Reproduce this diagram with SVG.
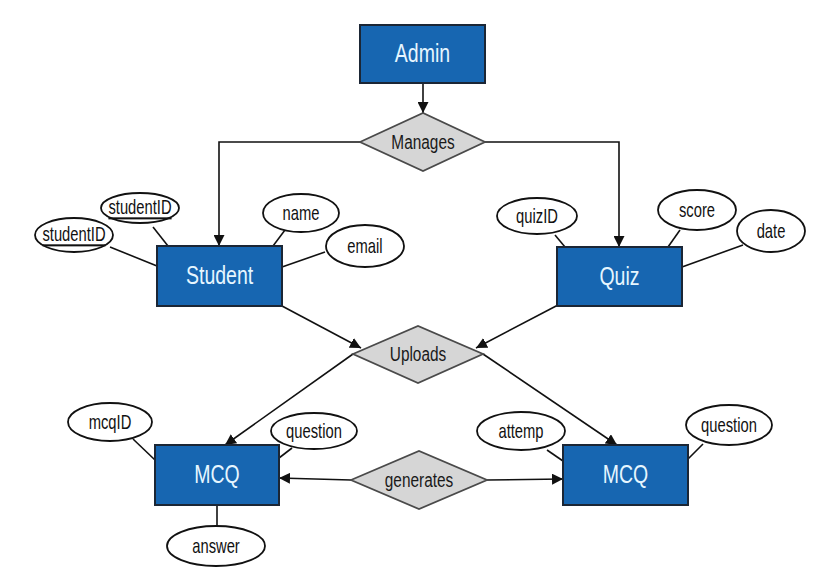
<svg xmlns="http://www.w3.org/2000/svg" width="828" height="576" viewBox="0 0 828 576">
<style>
.ent{fill:#1766b1;stroke:#1b2635;stroke-width:2}
.rel{fill:#d6d6d6;stroke:#4a4a4a;stroke-width:1.8}
.att{fill:#fff;stroke:#111;stroke-width:1.8}
.ln{fill:none;stroke:#111;stroke-width:1.6}
text{font-family:"Liberation Sans",Arial,sans-serif;text-anchor:middle;dominant-baseline:central;transform-box:fill-box;transform-origin:center}
.et{font-size:25px;fill:#e6f6ff;transform:scaleX(0.78)}
.rt{font-size:20px;fill:#1a1a1a;transform:scaleX(0.77)}
.at{font-size:20.5px;fill:#111;transform:scaleX(0.72)}
</style>
<defs>
<marker id="ah" viewBox="0 0 10 10" refX="10" refY="5" markerWidth="11" markerHeight="11" markerUnits="userSpaceOnUse" orient="auto">
<path d="M0,0 L10,5 L0,10 z" fill="#111"/>
</marker>
</defs>
<rect width="828" height="576" fill="#fff"/>
<g id="connectors">
<line class="ln" x1="423" y1="83" x2="423" y2="113" marker-end="url(#ah)"/>
<polyline class="ln" points="360,142 219,142 219,246" marker-end="url(#ah)"/>
<polyline class="ln" points="485,142 619,142 619,247" marker-end="url(#ah)"/>
<line class="ln" x1="153" y1="227" x2="168" y2="246"/>
<line class="ln" x1="110" y1="247" x2="157" y2="266"/>
<line class="ln" x1="285" y1="230" x2="273" y2="246"/>
<line class="ln" x1="325" y1="252" x2="282" y2="267"/>
<line class="ln" x1="555" y1="235" x2="565" y2="247"/>
<line class="ln" x1="680" y1="230" x2="668" y2="247"/>
<line class="ln" x1="743" y1="245" x2="682" y2="267"/>
<line class="ln" x1="282" y1="306" x2="361" y2="348" marker-end="url(#ah)"/>
<line class="ln" x1="558" y1="305" x2="476" y2="348" marker-end="url(#ah)"/>
<line class="ln" x1="353" y1="354" x2="225" y2="445" marker-end="url(#ah)"/>
<line class="ln" x1="483" y1="354" x2="617" y2="445" marker-end="url(#ah)"/>
<line class="ln" x1="133" y1="439" x2="155" y2="460"/>
<line class="ln" x1="292" y1="448" x2="279" y2="458"/>
<line class="ln" x1="217" y1="505" x2="217" y2="526"/>
<line class="ln" x1="547" y1="450" x2="563" y2="461"/>
<line class="ln" x1="703" y1="444" x2="688" y2="459"/>
<line class="ln" x1="351" y1="480" x2="279" y2="478" marker-end="url(#ah)"/>
<line class="ln" x1="487" y1="480" x2="563" y2="479" marker-end="url(#ah)"/>
</g>
<g id="admin"><rect class="ent" x="360" y="25" width="125" height="58"/><text class="et" x="422.5" y="54">Admin</text></g>
<g id="manages"><polygon class="rel" points="360,142 423,113 485,142 423,171"/><text class="rt" x="423" y="142">Manages</text></g>
<g id="student"><rect class="ent" x="157" y="246" width="125" height="60"/><text class="et" x="219.5" y="276">Student</text></g>
<g id="quiz"><rect class="ent" x="557" y="247" width="125" height="59"/><text class="et" x="619.5" y="276.5">Quiz</text></g>
<g id="uploads"><polygon class="rel" points="353,354 418,326 483,354 418,383"/><text class="rt" x="418" y="354">Uploads</text></g>
<g id="mcq1"><rect class="ent" x="155" y="445" width="124" height="60"/><text class="et" x="217" y="475">MCQ</text></g>
<g id="mcq2"><rect class="ent" x="563" y="445" width="125" height="60"/><text class="et" x="625.5" y="475">MCQ</text></g>
<g id="generates"><polygon class="rel" points="351,480 419,451 487,480 419,509"/><text class="rt" x="419" y="480">generates</text></g>
<g id="attr-studentID-1"><ellipse class="att" cx="140" cy="208" rx="39" ry="15"/><text class="at" x="140" y="207" text-decoration="underline">studentID</text></g>
<g id="attr-studentID-2"><ellipse class="att" cx="74" cy="235" rx="39" ry="17"/><text class="at" x="74" y="234" text-decoration="underline">studentID</text></g>
<g id="attr-name"><ellipse class="att" cx="301" cy="213" rx="38" ry="19"/><text class="at" x="301" y="213">name</text></g>
<g id="attr-email"><ellipse class="att" cx="365" cy="246" rx="39" ry="21"/><text class="at" x="365" y="246">email</text></g>
<g id="attr-quizID"><ellipse class="att" cx="537" cy="216" rx="40" ry="18"/><text class="at" x="537" y="216">quizID</text></g>
<g id="attr-score"><ellipse class="att" cx="697" cy="210" rx="39" ry="20"/><text class="at" x="697" y="210">score</text></g>
<g id="attr-date"><ellipse class="att" cx="771" cy="231" rx="34" ry="21"/><text class="at" x="771" y="231">date</text></g>
<g id="attr-mcqID"><ellipse class="att" cx="110" cy="422" rx="42" ry="19"/><text class="at" x="110" y="422">mcqID</text></g>
<g id="attr-question-1"><ellipse class="att" cx="314" cy="431" rx="43" ry="18"/><text class="at" x="314" y="431">question</text></g>
<g id="attr-answer"><ellipse class="att" cx="216" cy="546" rx="49" ry="20"/><text class="at" x="216" y="546">answer</text></g>
<g id="attr-attemp"><ellipse class="att" cx="521" cy="431" rx="44" ry="19"/><text class="at" x="521" y="431">attemp</text></g>
<g id="attr-question-2"><ellipse class="att" cx="729" cy="425" rx="43" ry="20"/><text class="at" x="729" y="425">question</text></g>
</svg>
